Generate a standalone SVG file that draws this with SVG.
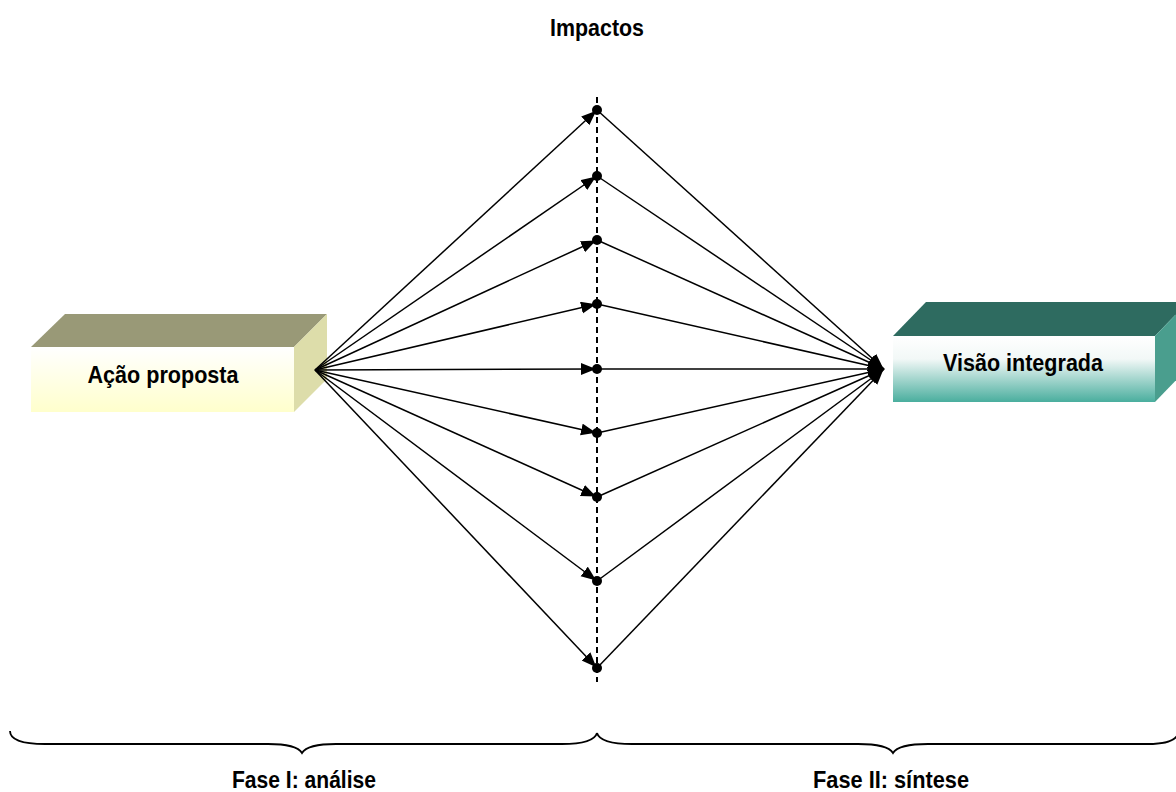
<svg xmlns="http://www.w3.org/2000/svg" width="1176" height="792" viewBox="0 0 1176 792">
<style>
.lbl{font-family:"Liberation Sans",Arial,sans-serif;font-weight:bold;fill:#000;text-anchor:middle}
.ln{stroke:#000;stroke-width:1.5;fill:none}
.dot{fill:#000}
.brace{stroke:#000;stroke-width:1.8;fill:none}
</style>
<defs>
<linearGradient id="gL" x1="0" y1="0" x2="0" y2="1">
<stop offset="0" stop-color="#FFFFFF"/><stop offset="1" stop-color="#FFFFCC"/>
</linearGradient>
<linearGradient id="gR" x1="0" y1="0" x2="0" y2="1">
<stop offset="0" stop-color="#FFFFFF"/><stop offset="0.35" stop-color="#F2F8F7"/><stop offset="1" stop-color="#4AAE9E"/>
</linearGradient>
<marker id="ah" markerUnits="userSpaceOnUse" markerWidth="18" markerHeight="14" refX="16" refY="6" orient="auto">
<path d="M0,0 L15,6 L0,12 z" fill="#000"/>
</marker>
</defs>
<text class="lbl" x="597" y="36" font-size="24" textLength="94" lengthAdjust="spacingAndGlyphs">Impactos</text>
<g id="acao">
<polygon points="31,347 65,314 327,314 294,347" fill="#999977"/>
<polygon points="294,347 327,314 327,379 294,412" fill="#DDDDAA"/>
<rect x="31" y="347" width="263" height="65" fill="url(#gL)"/>
<text class="lbl" x="163" y="383" font-size="23" textLength="151" lengthAdjust="spacingAndGlyphs">Ação proposta</text>
</g>
<g id="visao">
<polygon points="893,336 926,302 1188,302 1155,336" fill="#2E6B60"/>
<polygon points="1155,336 1188,302 1188,368 1155,402" fill="#4A9E8E"/>
<rect x="893" y="336" width="262" height="66" fill="url(#gR)"/>
<text class="lbl" x="1023" y="371" font-size="23" textLength="160" lengthAdjust="spacingAndGlyphs">Visão integrada</text>
</g>
<g id="connectors">
<line x1="597" y1="97" x2="597" y2="682" stroke="#000" stroke-width="2" stroke-dasharray="6,4"/>
<g class="ln" marker-end="url(#ah)">
<line x1="315" y1="370" x2="597" y2="110"/>
<line x1="315" y1="370" x2="597" y2="176"/>
<line x1="315" y1="370" x2="597" y2="240"/>
<line x1="315" y1="370" x2="597" y2="304"/>
<line x1="315" y1="370" x2="597" y2="369"/>
<line x1="315" y1="370" x2="597" y2="433"/>
<line x1="315" y1="370" x2="597" y2="497"/>
<line x1="315" y1="370" x2="597" y2="581"/>
<line x1="315" y1="370" x2="597" y2="668"/>
<line x1="597" y1="110" x2="884" y2="369"/>
<line x1="597" y1="176" x2="884" y2="369"/>
<line x1="597" y1="240" x2="884" y2="369"/>
<line x1="597" y1="304" x2="884" y2="369"/>
<line x1="597" y1="369" x2="884" y2="369"/>
<line x1="597" y1="433" x2="884" y2="369"/>
<line x1="597" y1="497" x2="884" y2="369"/>
<line x1="597" y1="581" x2="884" y2="369"/>
<line x1="597" y1="668" x2="884" y2="369"/>
</g>
<g class="dot">
<circle cx="597" cy="110" r="5"/>
<circle cx="597" cy="176" r="5"/>
<circle cx="597" cy="240" r="5"/>
<circle cx="597" cy="304" r="5"/>
<circle cx="597" cy="369" r="5"/>
<circle cx="597" cy="433" r="5"/>
<circle cx="597" cy="497" r="5"/>
<circle cx="597" cy="581" r="5"/>
<circle cx="597" cy="668" r="5"/>
</g>
</g>
<g id="fases">
<path class="brace" d="M10,731 C10,740 22,744 45,744 L268,744 C290,744 299,748 302,753 C305,748 314,744 336,744 L562,744 C585,744 595,740 597,733"/>
<path class="brace" d="M597,733 C599,740 609,744 632,744 L858,744 C880,744 890,748 893,753 C896,748 906,744 928,744 L1148,744 C1165,744 1174,740 1177,736"/>
<text class="lbl" x="304" y="788" font-size="24" textLength="144" lengthAdjust="spacingAndGlyphs">Fase I: análise</text>
<text class="lbl" x="891" y="788" font-size="24" textLength="156" lengthAdjust="spacingAndGlyphs">Fase II: síntese</text>
</g>
</svg>
